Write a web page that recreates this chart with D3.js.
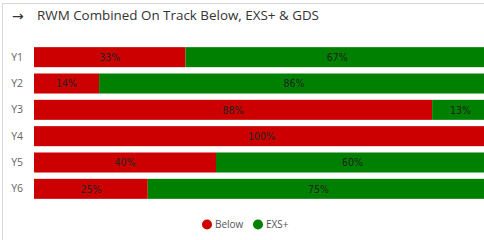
<!DOCTYPE html>
<html><head><meta charset="utf-8">
<script src="https://cdn.jsdelivr.net/npm/d3@7"></script>
<style>body{margin:0;background:#fff;overflow:hidden}svg{display:block}</style>
</head><body>
<script>
const categories = ["Y1","Y2","Y3","Y4","Y5","Y6"];
const belowValues = [33.3, 14.3, 87.5, 100, 40, 25];
const exsValues = [66.7, 85.7, 12.5, 0, 60, 75];
const seriesNames = ["Below","EXS+"];
const seriesColors = ["#CC0000","#008000"];
const title = "RWM Combined On Track Below, EXS+ & GDS";

const W = 484, H = 240;
const svg = d3.select("body").append("svg").attr("width", W).attr("height", H);

// frame
svg.append("line").attr("x1",2).attr("x2",W).attr("y1",3.5).attr("y2",3.5).attr("stroke","#d8d8d8").attr("stroke-width",1);
svg.append("line").attr("x1",2.5).attr("x2",2.5).attr("y1",3).attr("y2",H).attr("stroke","#d8d8d8").attr("stroke-width",1);

// title
svg.append("text").attr("x",12).attr("y",20.5).attr("font-family","'DejaVu Sans',sans-serif").attr("font-size",14).attr("fill","#333").text("→");
svg.append("text").attr("x",37).attr("y",19.5).attr("font-family","'Segoe UI','Open Sans',sans-serif").attr("font-size",13.4).attr("fill","#333").text(title);

const rows = categories.map((c,i)=>({cat:c, vals:[belowValues[i], exsValues[i]]}));
const x = d3.scaleLinear().domain([0,100]).range([34, 489]);
const y = d3.scaleBand().domain(categories).range([44, 202]).paddingInner(0.24).paddingOuter(0.12);

const g = svg.append("g");
rows.forEach(r=>{
  let acc = 0;
  r.vals.forEach((v,k)=>{
    if (v <= 0) return;
    const x0 = x(acc), x1 = x(acc+v);
    g.append("rect").attr("x",x0).attr("y",y(r.cat)).attr("width",x1-x0).attr("height",y.bandwidth())
      .attr("fill",seriesColors[k]);
    g.append("text").attr("x",(x0+x1)/2).attr("y",y(r.cat)+y.bandwidth()/2).attr("dy","0.35em")
      .attr("text-anchor","middle").attr("font-family","'DejaVu Sans Condensed','Roboto',sans-serif").attr("font-size",10.5)
      .attr("fill","#222").text(d3.format(".0f")(v)+"%");
    acc += v;
  });
});

// y axis labels
const yAxis = d3.axisLeft(y).tickSize(0).tickPadding(0);
const ya = svg.append("g").attr("transform","translate(23,0)").call(yAxis);
ya.select(".domain").remove();
ya.selectAll("text").attr("font-family","'Segoe UI','Open Sans',sans-serif").attr("font-size",10.5).attr("fill","#666");

// legend
const leg = svg.append("g");
const legX = [207, 258];
seriesNames.forEach((n,k)=>{
  leg.append("circle").attr("cx",legX[k]).attr("cy",224.5).attr("r",5).attr("fill",seriesColors[k]);
  leg.append("text").attr("x",legX[k]+8).attr("y",224.5).attr("dy","0.35em").attr("font-family","'Segoe UI','Open Sans',sans-serif")
    .attr("font-size",10).attr("fill","#555").text(n);
});
</script>
</body></html>
